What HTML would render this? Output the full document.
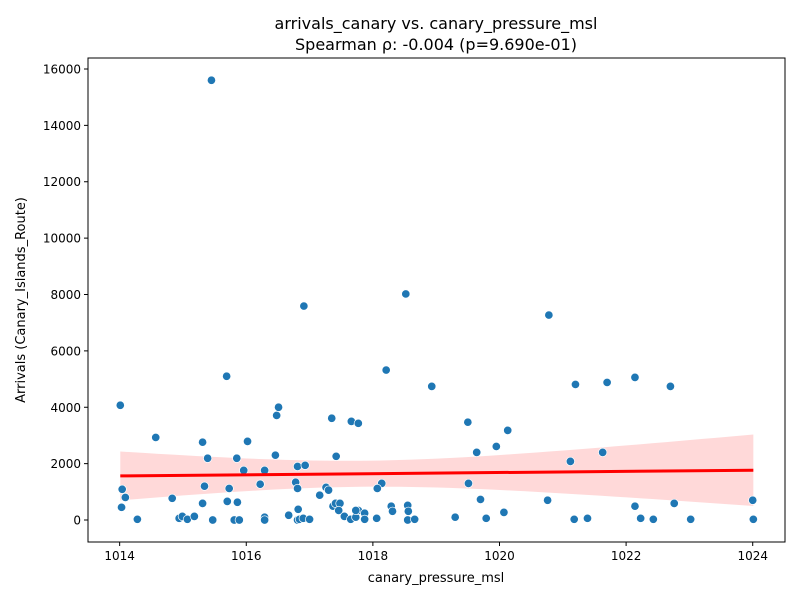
<!DOCTYPE html>
<html><head><meta charset="utf-8"><style>
body{margin:0;background:#fff;font-family:"Liberation Sans","DejaVu Sans",sans-serif}
svg text{font-family:"DejaVu Sans","Liberation Sans",sans-serif}
</style></head><body>
<svg id="chart" width="800" height="600" viewBox="0 0 800 600">
<text x="436" y="29" font-size="16" text-anchor="middle">arrivals_canary vs. canary_pressure_msl</text>
<text x="436" y="50" font-size="16" text-anchor="middle">Spearman ρ: -0.004 (p=9.690e-01)</text>
<g id="band"></g>
<g id="grid"></g>
<g id="points"></g>
<g id="reg"></g>
<rect x="88" y="58" width="697" height="484" fill="none" stroke="#000" stroke-width="1"/>
<g id="xticks"></g>
<g id="yticks"></g>
<text x="436" y="582" font-size="13" text-anchor="middle">canary_pressure_msl</text>
<text transform="translate(25,300) rotate(-90)" font-size="13" text-anchor="middle">Arrivals (Canary_Islands_Route)</text>
</svg>
<script>
const pressure=[1014.01,1015.69,1018.21,1018.93,1014.57,1016.48,1016.51,1017.35,1017.66,1017.77,1015.31,1016.02,1015.39,1015.85,1016.46,1017.42,1015.96,1016.29,1016.81,1016.93,1014.04,1014.09,1015.34,1015.73,1016.22,1016.78,1016.81,1017.26,1017.30,1018.14,1018.07,1014.83,1017.16,1014.03,1015.31,1015.70,1015.86,1016.82,1017.37,1017.41,1017.48,1017.46,1018.29,1018.31,1018.55,1018.56,1014.28,1014.94,1014.99,1015.07,1015.18,1015.47,1015.81,1015.89,1016.29,1016.29,1016.67,1016.81,1016.84,1016.90,1017.00,1017.55,1017.65,1017.73,1017.77,1017.73,1017.87,1017.87,1018.06,1018.55,1018.66,1021.20,1021.70,1022.14,1022.70,1019.50,1020.13,1019.64,1019.95,1021.63,1021.12,1019.51,1019.70,1020.76,1024.00,1022.14,1022.76,1019.30,1019.79,1020.07,1021.18,1021.39,1022.23,1022.43,1023.02,1024.01,1015.45,1016.91,1018.52,1020.78];
const arrivals=[4070,5100,5320,4740,2930,3710,4000,3610,3500,3430,2760,2790,2190,2190,2300,2260,1760,1760,1900,1940,1090,800,1200,1120,1270,1340,1120,1160,1060,1300,1120,770,880,450,590,660,630,380,490,590,590,340,490,310,520,310,25,60,130,25,130,0,0,0,100,0,170,0,25,60,25,130,25,100,340,340,240,25,60,0,25,4810,4880,5060,4740,3470,3180,2400,2610,2400,2080,1300,730,700,700,490,590,100,60,270,25,60,60,25,25,25,15600,7590,8020,7270];
const xTicks=[1014,1016,1018,1020,1022,1024];
const yTicks=[0,2000,4000,6000,8000,10000,12000,14000,16000];
const NS="http://www.w3.org/2000/svg";
const X0=88,X1=785,Y0=542,Y1=58,xMin=1013.5,xMax=1024.51,yMin=-780,yMax=16390;
const sx=v=>X0+(v-xMin)/(xMax-xMin)*(X1-X0);
const sy=v=>Y0-(v-yMin)/(yMax-yMin)*(Y0-Y1);
function mk(t,a,p){const e=document.createElementNS(NS,t);for(const k in a)e.setAttribute(k,a[k]);(p||document.getElementById('chart')).appendChild(e);return e;}
const n=pressure.length;let mx=0,my=0;for(let i=0;i<n;i++){mx+=pressure[i];my+=arrivals[i];}mx/=n;my/=n;
let sxx=0,sxy=0;for(let i=0;i<n;i++){sxx+=(pressure[i]-mx)**2;sxy+=(pressure[i]-mx)*(arrivals[i]-my);}
const b=sxy/sxx,a=my-b*mx;let sse=0;for(let i=0;i<n;i++)sse+=(arrivals[i]-a-b*pressure[i])**2;
const s=Math.sqrt(sse/(n-2));
const lo=Math.min(...pressure),hi=Math.max(...pressure);
let up=[],dn=[];for(let k=0;k<=50;k++){const x=lo+(hi-lo)*k/50;const f=a+b*x;const se=s*Math.sqrt(1/n+(x-mx)**2/sxx);up.push(sx(x)+','+sy(f+1.985*se));dn.unshift(sx(x)+','+sy(f-1.985*se));}
const band=mk('polygon',{points:up.concat(dn).join(' '),fill:'#ff0000','fill-opacity':0.15,stroke:'none'},document.getElementById('band'));


const pg=document.getElementById('points');
for(let i=0;i<n;i++){const c=mk('circle',{cx:sx(pressure[i]),cy:sy(arrivals[i]),r:4.2,fill:'#1f77b4',stroke:'#fff','stroke-width':0.7},pg);

}
const rl=mk('line',{x1:sx(lo),y1:sy(a+b*lo),x2:sx(hi),y2:sy(a+b*hi),stroke:'#ff0000','stroke-width':3},document.getElementById('reg'));


const xg=document.getElementById('xticks');
xTicks.forEach(t=>{const x=sx(t);mk('line',{x1:x,x2:x,y1:Y0,y2:Y0+4,stroke:'#000'},xg);
const tx=mk('text',{x:x,y:Y0+18,'font-size':12,'text-anchor':'middle'},xg);tx.textContent=t;

});
const yg=document.getElementById('yticks');
yTicks.forEach(t=>{const y=sy(t);mk('line',{x1:X0-4,x2:X0,y1:y,y2:y,stroke:'#000'},yg);
const tx=mk('text',{x:X0-7,y:y+4.5,'font-size':12,'text-anchor':'end'},yg);tx.textContent=t;

});
</script>
</body></html>
